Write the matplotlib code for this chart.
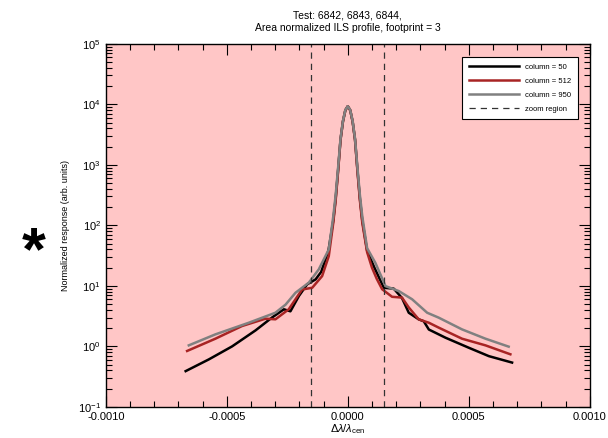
import numpy as np
import matplotlib
matplotlib.use('Agg')
import matplotlib.pyplot as plt
from matplotlib.ticker import FormatStrFormatter, MultipleLocator, LogLocator

plt.rcParams['font.family'] = ['Liberation Sans', 'DejaVu Sans']
plt.rcParams['mathtext.fontset'] = 'custom'
plt.rcParams['mathtext.rm'] = 'Liberation Sans'
plt.rcParams['mathtext.it'] = 'Liberation Sans:italic'

# ILS profiles, one per detector column
x_c50 = [-0.00067, -0.000574, -0.000478, -0.000381, -0.000313, -0.000264, -0.000237,
         -0.000202, -0.000168, -0.000133, -0.00011, -0.00008, -0.00006, -0.00005,
         -0.00004, -0.00003, -0.00002, -0.00001, 0.0, 0.00001, 0.00002, 0.00003,
         0.00004, 0.00005, 0.00006, 0.00008, 0.00011, 0.000149, 0.00019, 0.000224,
         0.000252, 0.000293, 0.000314, 0.000335, 0.000404, 0.0005, 0.000583, 0.000679]
y_c50 = [0.39, 0.61, 1.0, 1.84, 3.0, 4.1, 3.8, 6.8, 10.6, 12.8, 17, 38, 120, 280,
         820, 2600, 5200, 8000, 9300, 8000, 5200, 2600, 820, 280, 120, 38, 20,
         9.3, 9.0, 6.3, 3.6, 2.8, 2.6, 1.9, 1.39, 0.95, 0.69, 0.54]

x_c512 = [-0.000664, -0.000547, -0.000437, -0.00034, -0.000299, -0.000244, -0.000189,
          -0.000147, -0.000106, -0.0000785, -0.00006, -0.00005, -0.00004, -0.00003,
          -0.00002, -0.00001, 0.0, 0.00001, 0.00002, 0.00003, 0.00004, 0.00005,
          0.00006, 0.00008, 0.0001, 0.00012, 0.000142, 0.000183, 0.000224, 0.000252,
          0.000293, 0.000335, 0.000376, 0.000472, 0.000569, 0.000672]
y_c512 = [0.84, 1.34, 2.17, 2.87, 2.8, 4.1, 8.7, 9.3, 14.5, 31, 110, 260, 780, 2600,
          5200, 8000, 9300, 8000, 5200, 2600, 780, 260, 110, 36, 20, 13, 8.8, 6.6,
          6.4, 4.4, 2.8, 2.46, 2.04, 1.34, 1.04, 0.74]

x_c950 = [-0.000657, -0.000547, -0.000409, -0.000299, -0.000257, -0.000216, -0.000161,
          -0.00012, -0.0000785, -0.00006, -0.00005, -0.00004, -0.00003, -0.00002,
          -0.00001, 0.0, 0.00001, 0.00002, 0.00003, 0.00004, 0.00005, 0.00006,
          0.00008, 0.000114, 0.000156, 0.000211, 0.000266, 0.000328, 0.000376,
          0.000472, 0.000569, 0.000665]
y_c950 = [1.04, 1.58, 2.46, 3.6, 4.9, 7.7, 11.3, 18.7, 40, 140, 320, 900, 2700, 5300,
          8100, 9300, 8100, 5300, 2700, 900, 320, 140, 42, 24, 9.9, 8.2, 6.0, 3.6,
          2.98, 1.91, 1.34, 0.99]

zoom_edges = [-0.00015, 0.00015]

fig = plt.figure(figsize=(6.08, 4.38), dpi=100)
ax = fig.add_axes([0.174, 0.071, 0.796, 0.829])
ax.set_facecolor('#ffc6c6')

l1, = ax.plot(x_c50, y_c50, color='black', lw=1.8, label='column = 50')
l2, = ax.plot(x_c512, y_c512, color='#a82424', lw=1.8, label='column = 512')
l3, = ax.plot(x_c950, y_c950, color='#808080', lw=1.8, label='column = 950')
for xe in zoom_edges:
    ld = ax.axvline(xe, color='#333333', lw=0.9, ls=(0, (5, 4)), label='zoom region')

ax.set_yscale('log')
ax.set_xlim(-0.001, 0.001)
ax.set_ylim(0.1, 1e5)
ax.xaxis.set_major_locator(MultipleLocator(0.0005))
ax.xaxis.set_minor_locator(MultipleLocator(0.0001))
ax.xaxis.set_major_formatter(FormatStrFormatter('%.4f'))
ax.yaxis.set_major_locator(LogLocator(base=10, numticks=10))
ax.yaxis.set_minor_locator(LogLocator(base=10, subs=np.arange(2, 10), numticks=20))
ax.tick_params(which='both', direction='in', top=True, right=True, labelsize=8, width=0.8)
ax.tick_params(which='major', length=8)
ax.tick_params(which='minor', length=4)
for s in ax.spines.values():
    s.set_linewidth(1.0)

ax.set_xlabel(r'$\Delta\lambda/\lambda_{\rm cen}$', fontsize=8, labelpad=0)
ax.set_ylabel('Normalized response (arb. units)', fontsize=6.5, labelpad=6)
ax.set_title('Test: 6842, 6843, 6844,\nArea normalized ILS profile, footprint = 3',
             fontsize=7.5, pad=9, linespacing=1.4)

leg = ax.legend(handles=[l1, l2, l3, ld], loc='upper right', bbox_to_anchor=(0.975, 0.964),
                borderaxespad=0, fontsize=5.5, handlelength=6.5, fancybox=False,
                framealpha=1, edgecolor='black', labelspacing=0.85, borderpad=0.9)
leg.get_frame().set_linewidth(0.8)

fig.text(0.055, 0.42, '*', fontsize=44, fontweight='bold', ha='center', va='center')

fig.savefig('out.png', dpi=100)
